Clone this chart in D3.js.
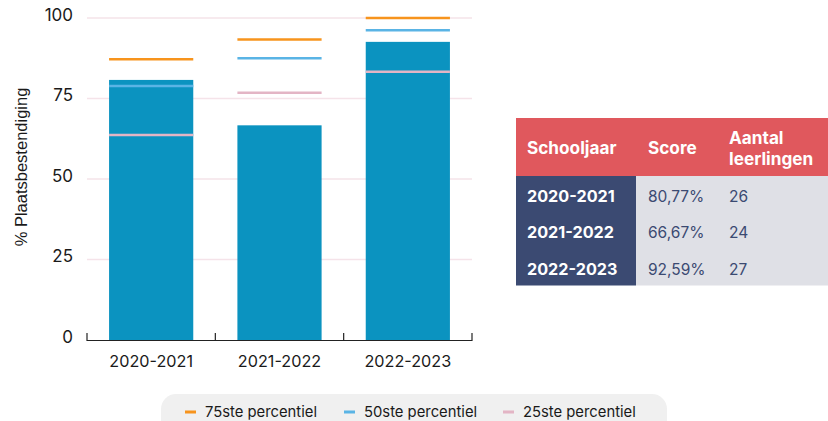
<!DOCTYPE html>
<html><head><meta charset="utf-8">
<script src="https://cdn.jsdelivr.net/npm/d3@7"></script>
<style>
body{margin:0;background:#fff;}
svg{display:block;}
</style>
</head><body>
<svg id="c" width="828" height="421"></svg>
<script>
const categories = ["2020-2021","2021-2022","2022-2023"];
const scores = [80.77, 66.67, 92.59];
const p75 = [87.2, 93.3, 100];
const p50 = [78.9, 87.5, 96.2];
const p25 = [63.7, 76.8, 83.3];
const yTicks = [0,25,50,75,100];
const tableHeaders = ["Schooljaar","Score","Aantal leerlingen"];
const tableScores = ["80,77%","66,67%","92,59%"];
const tableCounts = ["26","24","27"];
const legendLabels = ["75ste percentiel","50ste percentiel","25ste percentiel"];
const legendColors = ["#f7941d","#5ab4e5","#e3b5c5"];

const svg = d3.select("#c");
const font = "Inter, 'Noto Sans', sans-serif";

const x = d3.scaleBand().domain(categories).range([87,472]).paddingInner(0.344).paddingOuter(0.172);
const y = d3.scaleLinear().domain([0,100]).range([340,18]);

// gridlines
svg.append("g").selectAll("line").data(yTicks.filter(d=>d>0)).join("line")
  .attr("x1",87).attr("x2",472).attr("y1",d=>y(d)).attr("y2",d=>y(d))
  .attr("stroke","#f5e3e9").attr("stroke-width",1.5);

// y tick labels
svg.append("g").selectAll("text").data(yTicks).join("text")
  .attr("x",73).attr("y",d=>y(d)-3).attr("dy","0.35em").attr("text-anchor","end")
  .attr("font-family",font).attr("font-size",17).attr("fill","#1a1a1a").text(d=>d);

// y label
svg.append("text").attr("transform","translate(27,167) rotate(-90)")
  .attr("text-anchor","middle").attr("font-family","'Liberation Sans', Arial, sans-serif")
  .attr("font-size",16.5).attr("fill","#1a1a1a").text("% Plaatsbestendiging");

// bars
svg.append("g").selectAll("rect").data(categories).join("rect")
  .attr("x",d=>x(d)).attr("width",x.bandwidth())
  .attr("y",(d,i)=>y(scores[i])).attr("height",(d,i)=>y(0)-y(scores[i]))
  .attr("fill","#0b93c0");

// percentile lines
[p75,p50,p25].forEach((arr,k)=>{
  svg.append("g").selectAll("line").data(categories).join("line")
    .attr("x1",d=>x(d)).attr("x2",d=>x(d)+x.bandwidth())
    .attr("y1",(d,i)=>y(arr[i])).attr("y2",(d,i)=>y(arr[i]))
    .attr("stroke",legendColors[k]).attr("stroke-width",2.5);
});

// x axis
svg.append("line").attr("x1",87).attr("x2",472).attr("y1",340.5).attr("y2",340.5)
  .attr("stroke","#222").attr("stroke-width",1.2);
const tickXs = [87, 87+x.step(), 87+2*x.step(), 472];
svg.append("g").selectAll("line").data(tickXs).join("line")
  .attr("x1",d=>d).attr("x2",d=>d).attr("y1",333).attr("y2",341)
  .attr("stroke","#222").attr("stroke-width",1.2);
svg.append("g").selectAll("text").data(categories).join("text")
  .attr("x",d=>x(d)+x.bandwidth()/2).attr("y",361).attr("dy","0.35em").attr("text-anchor","middle")
  .attr("font-family",font).attr("font-size",16.2).attr("fill","#1a1a1a").text(d=>d);

// legend
const lg = svg.append("g");
lg.append("rect").attr("x",161).attr("y",394).attr("width",506).attr("height",50).attr("rx",15)
  .attr("fill","#f0f0f0");
const legX = [185,344,503];
legendLabels.forEach((l,i)=>{
  lg.append("line").attr("x1",legX[i]).attr("x2",legX[i]+11).attr("y1",412).attr("y2",412)
    .attr("stroke",legendColors[i]).attr("stroke-width",3);
  lg.append("text").attr("x",legX[i]+20).attr("y",412).attr("dy","0.35em")
    .attr("font-family",font).attr("font-size",14.8).attr("fill","#1a1a1a").text(l);
});

// table
const tx = 516, tw = 312, hy = 118, hh = 58, rh = 36.5, c1w = 120;
const colX = [527, 648, 729];
const tb = svg.append("g");
tb.append("rect").attr("x",tx).attr("y",hy).attr("width",tw).attr("height",hh).attr("fill","#e0585d");
tb.append("rect").attr("x",tx).attr("y",hy+hh).attr("width",c1w).attr("height",rh*3).attr("fill","#3b4a72");
tb.append("rect").attr("x",tx+c1w).attr("y",hy+hh).attr("width",tw-c1w).attr("height",rh*3).attr("fill","#dfe0e6");
const hf = {"font-family":font,"font-size":17.2,"font-weight":700,"fill":"#fff"};
const rf = {"font-family":font,"font-size":16.2,"font-weight":700,"fill":"#fff"};
function txt(s,xx,yy,st){const t=tb.append("text").attr("x",xx).attr("y",yy).attr("dy","0.35em");for(const k in st)t.attr(k,st[k]);t.text(s);return t;}
txt(tableHeaders[0],colX[0],148,hf);
txt(tableHeaders[1],colX[1],148,hf);
const parts = tableHeaders[2].split(" ");
txt(parts[0],colX[2],138,hf);
txt(parts[1],colX[2],158.5,hf);
categories.forEach((c,i)=>{
  const yy = hy+hh+rh*i+rh/2+2;
  txt(c,colX[0],yy,rf);
  txt(tableScores[i],colX[1],yy,{"font-family":font,"font-size":15.5,"fill":"#3b4a72"});
  txt(tableCounts[i],colX[2],yy,{"font-family":font,"font-size":15.5,"fill":"#3b4a72"});
});
</script>
</body></html>
